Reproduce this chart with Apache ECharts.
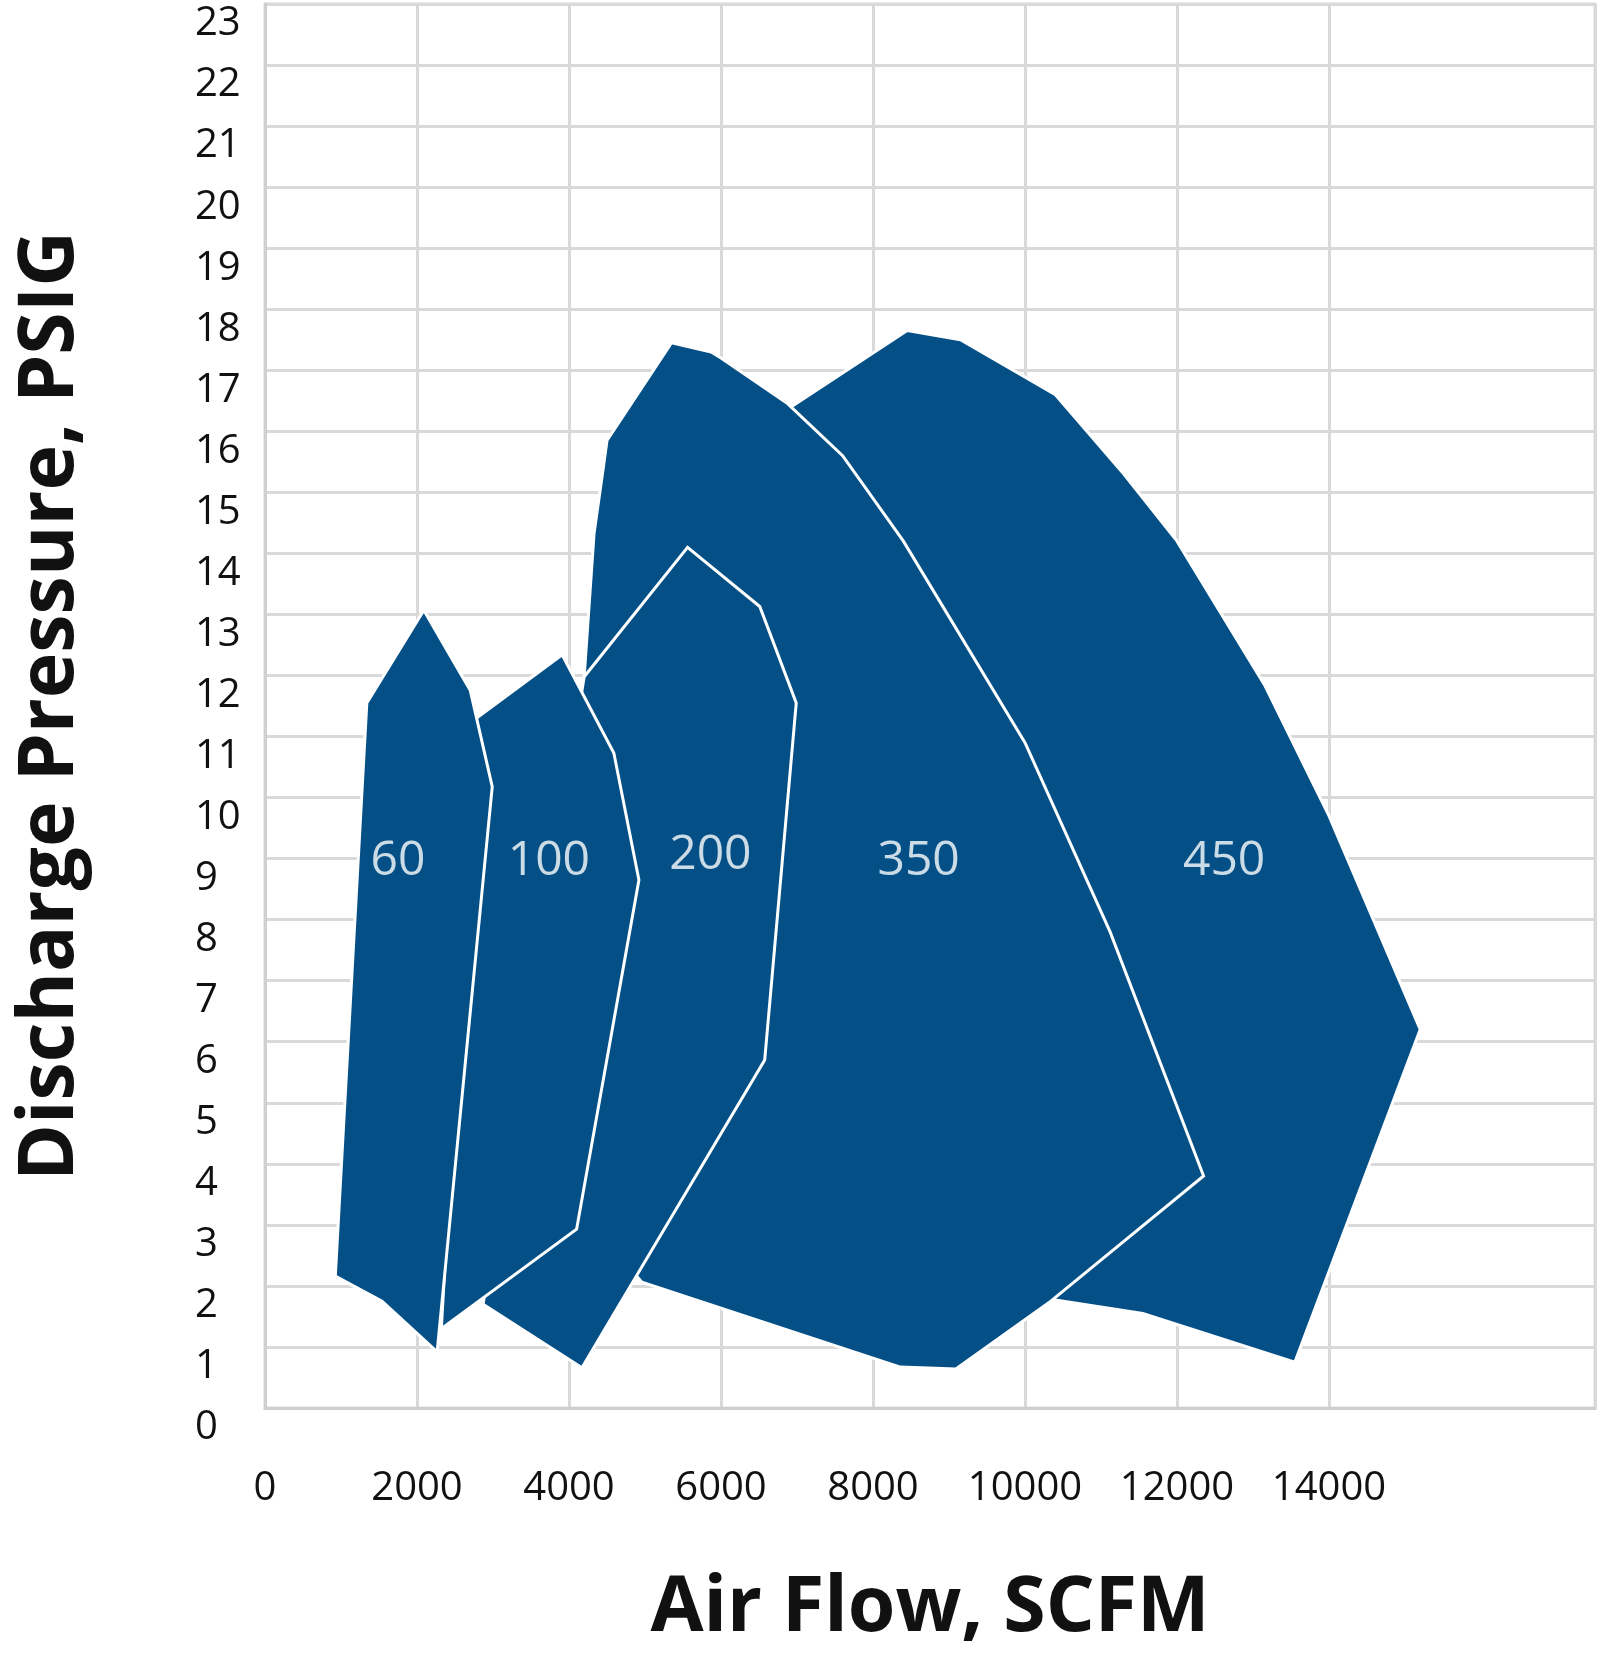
<!DOCTYPE html>
<html>
<head>
<meta charset="utf-8">
<title>Air Flow vs Discharge Pressure</title>
<script src="https://cdn.jsdelivr.net/npm/echarts@6/dist/echarts.min.js"></script>
<style>
    html, body { margin: 0; padding: 0; background: #ffffff; }
    #main { width: 1600px; height: 1663px; }
</style>
</head>
<body>
<div id="main"></div>
<script>
// 各机型工作范围 (x: SCFM, y: PSIG)，按从后到前的顺序绘制
var shape450 = [[6800, 16.3], [8450, 17.65], [9150, 17.5], [10400, 16.6], [11300, 15.3], [12000, 14.2],
    [13150, 11.85], [14000, 9.7], [15200, 6.2], [13550, 0.75], [11550, 1.55], [10250, 1.8], [9000, 6]]
var shape350 = [[4500, 15.85], [5350, 17.45], [5870, 17.3], [6000, 17.2], [6880, 16.45], [7600, 15.6],
    [8400, 14.2], [10000, 10.9], [11120, 7.8], [12350, 3.8], [10340, 1.75], [9090, 0.64], [8360, 0.67],
    [4960, 2.06], [4300, 3], [4200, 11.98], [4330, 14.33], [4440, 15.3]]
var shape200 = [[4200, 11.98], [5560, 14.1], [6510, 13.13], [6990, 11.55], [6575, 5.7], [4170, 0.66], [2870, 1.7]]
var shape100 = [[2780, 11.3], [3910, 12.34], [4590, 10.73], [4920, 8.65], [4100, 2.93], [2320, 1.3]]
var shape60 = [[1340, 11.55], [2090, 13.07], [2700, 11.76], [2990, 10.18], [2265, 0.92], [1540, 1.75], [925, 2.16]]

// 标签
var labelNames = ['60', '100', '200', '350', '450']
var labelX = [1750, 3735, 5860, 8600, 12620]
var labelY = [8.95, 8.95, 9.05, 8.95, 8.95]

var shapes = [shape450, shape350, shape200, shape100, shape60]

var fillColor = '#034f86'
var gridColor = '#d9d9d9'

var chartDom = document.getElementById('main');
var myChart = echarts.init(chartDom);
var option;

// 多边形
function polygonSeries(pts) {
    return {
        type: 'custom',
        silent: true,
        data: [[0, 0]],
        renderItem: function (params, api) {
            var points = pts.map(function (p) {
                return api.coord(p)
            })
            return {
                type: 'polygon',
                shape: {points: points},
                style: {
                    fill: fillColor,
                    stroke: '#ffffff',
                    lineWidth: 3
                }
            }
        }
    }
}

var series = shapes.map(polygonSeries)

var labelData = []
for (let i = 0; i < labelNames.length; i++) {
    labelData.push([labelX[i], labelY[i], labelNames[i]])
}
series.push({
    type: 'scatter',
    silent: true,
    symbolSize: 1,
    itemStyle: {color: 'rgba(0,0,0,0)'},
    data: labelData,
    label: {
        show: true,
        position: 'inside',
        formatter: function (p) {
            return p.value[2]
        },
        color: '#ffffff',
        fontFamily: 'Open Sans',
        fontSize: 48
    }
})

// 第 9 条竖线 (16000) 不显示
var xLineColors = []
for (let i = 0; i < 10; i++) {
    xLineColors.push(i === 8 ? 'rgba(0,0,0,0)' : gridColor)
}

option = {
    backgroundColor: '#ffffff',
    animation: false,
    grid: {
        left: 265,
        right: 5,
        top: 4,
        bottom: 255,
        show: true,
        borderColor: gridColor,
        borderWidth: 3
    },
    xAxis: {
        type: 'value',
        min: 0,
        max: 17500,
        interval: 2000,
        name: 'Air Flow, SCFM',
        nameLocation: 'middle',
        nameGap: 163,
        nameTextStyle: {
            color: '#111111',
            fontFamily: 'Open Sans',
            fontWeight: 'bold',
            fontSize: 77,
            lineHeight: 77
        },
        axisLine: {show: true, lineStyle: {color: '#cfcfcf', width: 3}},
        axisTick: {show: false},
        axisLabel: {
            margin: 61,
            color: '#111111',
            fontFamily: 'Open Sans',
            fontSize: 40,
            lineHeight: 40,
            showMinLabel: true,
            formatter: function (v) {
                return v <= 14000 ? String(v) : ''
            }
        },
        splitLine: {show: true, lineStyle: {color: xLineColors, width: 3}}
    },
    yAxis: {
        type: 'value',
        min: 0,
        max: 23,
        interval: 1,
        name: 'Discharge Pressure, PSIG',
        nameLocation: 'middle',
        nameGap: 175,
        nameTextStyle: {
            color: '#111111',
            fontFamily: 'Open Sans',
            fontWeight: 'bold',
            fontSize: 77,
            lineHeight: 77
        },
        axisLine: {show: true, lineStyle: {color: '#cfcfcf', width: 3}},
        axisTick: {show: false},
        axisLabel: {
            margin: 70,
            align: 'left',
            verticalAlign: 'top',
            showMinLabel: true,
            showMaxLabel: true,
            hideOverlap: false,
            color: '#111111',
            fontFamily: 'Open Sans',
            fontSize: 40,
            lineHeight: 40
        },
        splitLine: {show: true, lineStyle: {color: gridColor, width: 3}}
    },
    series: series
};

option && myChart.setOption(option);
</script>
</body>
</html>
